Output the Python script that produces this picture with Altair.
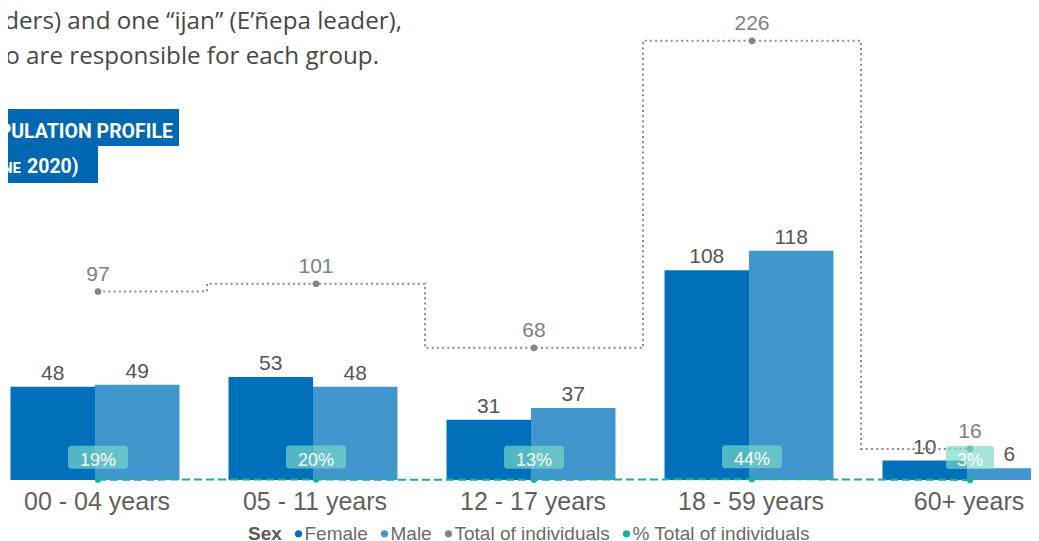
import altair as alt
import pandas as pd

# ---------------- data ----------------
ages = ["00 - 04 years", "05 - 11 years", "12 - 17 years", "18 - 59 years", "60+ years"]
female = [48, 53, 31, 108, 10]
male = [49, 48, 37, 118, 6]
total = [97, 101, 68, 226, 16]
pct = [0.19, 0.20, 0.13, 0.44, 0.03]
pct_labels = ["19%", "20%", "13%", "44%", "3%"]
sexes = ["Female", "Male"]
series = ["Female", "Male", "Total of individuals", "% Total of individuals"]
series_colors = ["#0070BB", "#4196CD", "#878787", "#16B29B"]
intro_line1 = "ders) and one \u201cijan\u201d (E\u2019\u00f1epa leader),"
intro_line2 = "o are responsible for each group."
title_line1 = "PULATION PROFILE"
title_line2a = "NE"
title_line2b = "2020)"

bars_df = pd.DataFrame(
    {
        "Age": ages * 2,
        "Sex": ["Female"] * len(ages) + ["Male"] * len(ages),
        "Value": female + male,
    }
)
tot_df = pd.DataFrame({"Age": ages, "Total": total, "Pct": pct, "PctLabel": pct_labels})

# ---------------- scales ----------------
x_scale = alt.Scale(domain=ages, range=[-22, 1068], paddingInner=0.225, paddingOuter=0.1125)
y_scale = alt.Scale(domain=[0, 242.9], nice=False, zero=True)
xo_scale = alt.Scale(domain=sexes, paddingInner=0, paddingOuter=0)
color_scale = alt.Scale(domain=series, range=series_colors)

X = alt.X(
    "Age:N",
    sort=ages,
    scale=x_scale,
    axis=alt.Axis(
        title=None,
        labelAngle=0,
        ticks=False,
        domain=False,
        grid=False,
        labelFontSize=25,
        labelFont="Liberation Sans",
        labelColor="#5f5f5f",
        labelPadding=9,
        labelOffset=2,
    ),
)
XO = alt.XOffset("Sex:N", scale=xo_scale, sort=sexes)

base_bars = alt.Chart(bars_df)
bars = base_bars.mark_bar().encode(
    x=X,
    xOffset=XO,
    y=alt.Y("Value:Q", scale=y_scale, axis=None),
    color=alt.Color(
        "Sex:N",
        scale=color_scale,
        legend=alt.Legend(
            title="Sex",
            orient="none",
            legendX=240,
            legendY=516,
            direction="horizontal",
            titleOrient="left",
            symbolType="circle",
            symbolSize=52,
            symbolStrokeWidth=0,
            labelFontSize=19,
            titleFontSize=19,
            labelFont="Liberation Sans",
            titleFont="Liberation Sans",
            titleFontWeight="bold",
            titleColor="#595959",
            labelColor="#6a6a6a",
            labelLimit=400,
            columnPadding=7,
            labelOffset=alt.ExprRef(expr="-3.5"),
            titlePadding=7,
            padding=0,
        ),
    ),
)
bar_labels = base_bars.mark_text(
    dy=-7, fontSize=21, font="Liberation Sans", color="#555555", baseline="alphabetic"
).encode(
    x=X,
    xOffset=XO,
    y=alt.Y("Value:Q", scale=y_scale, axis=None),
    text="Value:Q",
)

base_tot = alt.Chart(tot_df)
tot_line = base_tot.mark_line(
    interpolate="step", strokeDash=[2, 3.2], strokeWidth=2, color="#8a8a8a", xOffset=3
).encode(x=X, y=alt.Y("Total:Q", scale=y_scale, axis=None))
tot_pts = base_tot.mark_circle(size=45, color="#858585", opacity=1, xOffset=3).encode(
    x=X, y=alt.Y("Total:Q", scale=y_scale, axis=None)
)
tot_labels = base_tot.mark_text(
    dy=-11, fontSize=21, font="Liberation Sans", color="#808080", xOffset=3, baseline="alphabetic"
).encode(x=X, y=alt.Y("Total:Q", scale=y_scale, axis=None), text="Total:Q")

pct_line = base_tot.mark_line(
    strokeDash=[8, 4], strokeWidth=2, color="#16B29B", xOffset=3
).encode(x=X, y=alt.Y("Pct:Q", scale=y_scale, axis=None))
pct_pts = base_tot.mark_circle(size=40, color="#16B29B", opacity=1, xOffset=3).encode(
    x=X, y=alt.Y("Pct:Q", scale=y_scale, axis=None)
)
pct_boxes = (
    base_tot.transform_calculate(boxw="length(datum.PctLabel) * 12 + 24")
    .mark_bar(cornerRadius=3, color="#78D8C8", opacity=0.68, xOffset=3, yOffset=-34, y2Offset=-11)
    .encode(
        x=X,
        y=alt.Y("Pct:Q", scale=y_scale, axis=None),
        y2="Pct:Q",
        size=alt.Size("boxw:Q", scale=None, legend=None),
    )
)
pct_text = base_tot.mark_text(
    dy=-14, fontSize=18, font="Liberation Sans", color="white", xOffset=3, baseline="alphabetic"
).encode(x=X, y=alt.Y("Pct:Q", scale=y_scale, axis=None), text="PctLabel:N")

# ---------------- page text above the chart ----------------
one = pd.DataFrame({"k": [0]})
intro1 = alt.Chart(pd.DataFrame({"t": [intro_line1]})).mark_text(
    align="right", baseline="alphabetic", fontSize=24.2, font="Open Sans", color="#474747"
).encode(x=alt.value(394), y=alt.value(21), text="t:N")
intro2 = alt.Chart(pd.DataFrame({"t": [intro_line2]})).mark_text(
    align="right", baseline="alphabetic", fontSize=24.2, font="Open Sans", color="#474747"
).encode(x=alt.value(371), y=alt.value(56), text="t:N")

box1 = alt.Chart(one).mark_rect(color="#0068B3").encode(
    x=alt.value(0), x2=alt.value(171), y=alt.value(101), y2=alt.value(138)
)
box2 = alt.Chart(one).mark_rect(color="#0068B3").encode(
    x=alt.value(0), x2=alt.value(90), y=alt.value(138), y2=alt.value(175)
)
tfont = "Roboto"
title1 = alt.Chart(pd.DataFrame({"t": [title_line1]})).mark_text(
    align="right", baseline="alphabetic", fontSize=19.5, font=tfont, fontWeight="bold", color="white"
).encode(x=alt.value(165), y=alt.value(130), text="t:N")
title2a = alt.Chart(pd.DataFrame({"t": [title_line2a]})).mark_text(
    align="right", baseline="alphabetic", fontSize=15, font=tfont, fontWeight="bold", color="white"
).encode(x=alt.value(13), y=alt.value(165), text="t:N")
title2b = alt.Chart(pd.DataFrame({"t": [title_line2b]})).mark_text(
    align="left", baseline="alphabetic", fontSize=19.5, font=tfont, fontWeight="bold", color="white"
).encode(x=alt.value(19), y=alt.value(165), text="t:N")

chart = (
    alt.layer(
        intro1, intro2, box1, box2, title1, title2a, title2b,
        bars, bar_labels, tot_line, tot_pts, pct_line, pct_pts, pct_boxes, pct_text, tot_labels,
    )
    .properties(
        width=1023,
        height=472,
        padding={"left": 0, "top": 0, "right": 0, "bottom": 61},
        autosize=alt.AutoSizeParams(type="none"),
        background="white",
    )
    .configure_view(stroke=None)
)

chart.save("out.html", embed_options={"renderer": "svg", "actions": False})
